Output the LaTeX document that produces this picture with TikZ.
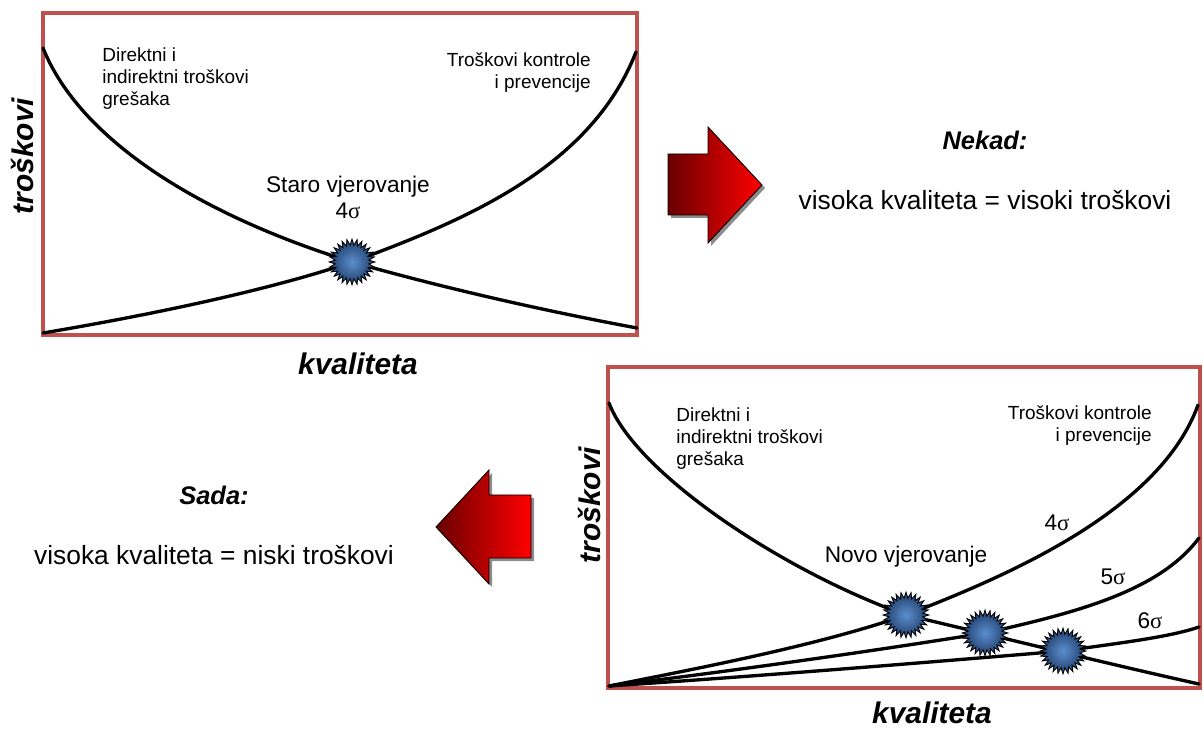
\documentclass[tikz,border=0pt]{standalone}
\usepackage{fontspec}
\setmainfont{Liberation Sans}
\newfontfamily\sigmafont{Liberation Serif}
\usetikzlibrary{shapes.geometric}
\definecolor{framered}{RGB}{192,80,77}
\definecolor{arrowdark}{RGB}{105,0,0}
\definecolor{arrowred}{RGB}{255,0,0}
\definecolor{burstin}{RGB}{90,142,205}
\definecolor{burstout}{RGB}{32,60,105}
\newcommand{\sig}{{\sigmafont σ}}
\tikzset{
  frame/.style={draw=framered, line width=2.6pt},
  curve/.style={line width=1.9pt, line cap=round},
  burst/.style={star, star points=28, star point ratio=1.35, minimum size=26pt, inner sep=0pt,
    draw=black, line width=0.5pt, inner color=burstin, outer color=burstout},
  small/.style={font=\fontsize{10.8}{12.5}\selectfont, inner sep=0pt},
  mid/.style={font=\fontsize{12.9}{14.7}\selectfont, inner sep=0pt},
  big/.style={font=\fontsize{15}{18}\selectfont, inner sep=0pt},
  head/.style={font=\fontsize{14.5}{17}\selectfont\bfseries\itshape, inner sep=0pt},
  axis/.style={font=\fontsize{17}{20}\selectfont\bfseries\itshape, inner sep=0pt},
  bigarrow/.style={left color=arrowdark, right color=arrowred, draw=black, line width=0.5pt},
  arrowshadow/.style={fill=black!45}
}
\begin{document}
\begin{tikzpicture}[x=0.02cm,y=-0.02cm]
  \useasboundingbox (0,0) rectangle (1204,729);
  \coordinate (P1) at (43,13); \coordinate (Q1) at (637,335);
  \coordinate (P2) at (608,367); \coordinate (Q2) at (1200,688);
  \coordinate (S1) at (352,262); \coordinate (S2) at (906,615);
  \coordinate (S3) at (985,633); \coordinate (S4) at (1063,651);
  \draw[frame] (P1) rectangle (Q1);
  \draw[frame] (P2) rectangle (Q2);
  \draw[curve] (43,48) .. controls (80,140) and (200,215) .. (S1) .. controls (440,287) and (540,310) .. (637,328);
  \draw[curve] (43,333) .. controls (150,315) and (270,290) .. (S1) .. controls (460,222) and (590,170) .. (636,52);
  \draw[curve] (609,403) .. controls (635,472) and (780,570) .. (S2) .. controls (1000,637) and (1100,662) .. (1199,684);
  \draw[curve] (609,686) .. controls (700,668) and (820,645) .. (S2) .. controls (1010,575) and (1160,510) .. (1198,405);
  \draw[curve] (609,686) .. controls (740,670) and (880,650) .. (S3) .. controls (1080,612) and (1160,590) .. (1199,538);
  \draw[curve] (609,686) .. controls (760,676) and (920,663) .. (S4) .. controls (1120,643) and (1170,637) .. (1199,627);
  \node[burst] (b1) at (S1) {}; \node[burst] (b2) at (S2) {};
  \node[burst] (b3) at (S3) {}; \node[burst] (b4) at (S4) {};
  \fill[arrowshadow, shift={(3,3)}] (668,154) -- (708,154) -- (708,127) -- (762,185) -- (708,243) -- (708,215) -- (668,215) -- cycle;
  \shade[bigarrow] (668,154) -- (708,154) -- (708,127) -- (762,185) -- (708,243) -- (708,215) -- (668,215) -- cycle;
  \fill[arrowshadow, shift={(3,3)}] (531,495) -- (489,495) -- (489,470) -- (436,527) -- (489,584) -- (489,558) -- (531,558) -- cycle;
  \shade[bigarrow] (531,495) -- (489,495) -- (489,470) -- (436,527) -- (489,584) -- (489,558) -- (531,558) -- cycle;
  \node[small, anchor=north west, align=left] (gr1) at (102,47) {Direktni i\\indirektni troškovi\\grešaka};
  \node[small, anchor=north east, align=right] (kp1) at (591,52) {Troškovi kontrole\\i prevencije};
  \node[mid, align=center] (old) at (348,197) {Staro vjerovanje\\4\sig};
  \node[small, anchor=north west, align=left] (gr2) at (676,407) {Direktni i\\indirektni troškovi\\grešaka};
  \node[small, anchor=north east, align=right] (kp2) at (1152,405) {Troškovi kontrole\\i prevencije};
  \node[mid] (new) at (906,557) {Novo vjerovanje};
  \node[mid] (s4) at (1057,523) {4\sig}; \node[mid] (s5) at (1113,577) {5\sig};
  \node[mid] (s6) at (1150,621) {6\sig};
  \node[axis, rotate=90] (y1) at (22,156) {troškovi}; \node[axis] (x1) at (358,364) {kvaliteta};
  \node[axis, rotate=90] (y2) at (589,505) {troškovi}; \node[axis] (x2) at (932,713) {kvaliteta};
  \node[head] (then) at (985,140) {Nekad:}; \node[big] (thenq) at (985,200) {visoka kvaliteta = visoki troškovi};
  \node[head] (now) at (214,495) {Sada:}; \node[big] (nowq) at (214,555) {visoka kvaliteta = niski troškovi};
\end{tikzpicture}
\end{document}
